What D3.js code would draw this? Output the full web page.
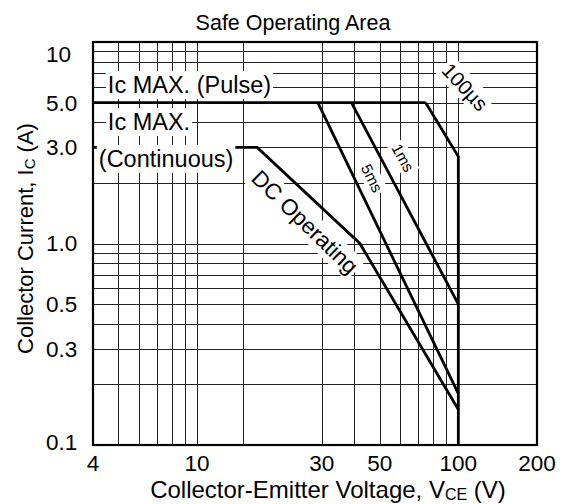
<!DOCTYPE html>
<html lang="en">
<head>
    <meta charset="UTF-8">
    <script src="https://d3js.org/d3.v7.min.js"></script>
    <title>Safe Operating Area</title>
    <style>
        body { margin: 0; background: #fff; }
        text { font-family: "Liberation Sans", Arial, Helvetica, sans-serif; fill: #000; }
    </style>
</head>
<body>
    <div id="chart"></div>
    <script>
        // chart data (V in volts, I in amps)
        const pulseV = [4, 75];
        const pulseI = [5, 5];
        const us100V = [75, 100, 100];
        const us100I = [5, 2.7, 0.1];
        const ms1V = [39, 100];
        const ms1I = [5, 0.5];
        const ms5V = [29, 100];
        const ms5I = [5, 0.18];
        const dcV = [4, 17, 42, 100];
        const dcI = [3, 3, 1, 0.15];

        // axis ticks + grid
        const xTicks = [4, 10, 30, 50, 100, 200];
        const xTickLabels = ["4", "10", "30", "50", "100", "200"];
        const yTicks = [10, 5, 3, 1, 0.5, 0.3, 0.1];
        const yTickLabels = ["10", "5.0", "3.0", "1.0", "0.5", "0.3", "0.1"];
        const xGrid = [5, 6, 7, 8, 9, 10, 15, 30, 40, 50, 60, 70, 80, 90, 100];
        const yGrid = [0.2, 0.3, 0.4, 0.5, 0.6, 0.7, 0.8, 0.9, 1, 2, 3, 4, 5, 6, 7, 8, 9];

        // annotations
        const labelText = ["Ic MAX. (Pulse)", "Ic MAX.", "(Continuous)", "DC Operating", "5ms", "1ms", "100\u00b5s"];
        const labelV = [4.56, 4.56, 4.21, 25.9, 46.7, 61.4, 106];
        const labelI = [5.58, 3.66, 2.40, 1.28, 2.11, 2.66, 5.98];
        const labelAngle = [0, 0, 0, 44, 64, 61, 47];
        const labelSize = [23.5, 23.5, 23.5, 22.5, 15.5, 15.5, 20.5];

        const w = 562;
        const h = 504;
        const margin = {top: 42, right: 25, bottom: 59, left: 93};

        const svg = d3.select("#chart").append("svg")
            .attr("width", w)
            .attr("height", h);

        svg.append("rect").attr("width", w).attr("height", h).attr("fill", "#fff");

        const x = d3.scaleLog().domain([4, 200]).range([margin.left, w - margin.right]);
        const y = d3.scaleLog().domain([0.1, 10]).range([h - margin.bottom, margin.top]);

        const crisp = v => Math.round(v) + 0.5;

        // grid
        const grid = svg.append("g")
            .attr("stroke", "#222")
            .attr("stroke-width", 1)
            .attr("shape-rendering", "crispEdges");

        grid.selectAll(".vg")
            .data(xGrid)
            .join("line")
            .attr("class", "vg")
            .attr("x1", d => crisp(x(d)))
            .attr("x2", d => crisp(x(d)))
            .attr("y1", y(10))
            .attr("y2", y(0.1));

        grid.selectAll(".hg")
            .data(yGrid)
            .join("line")
            .attr("class", "hg")
            .attr("x1", x(4))
            .attr("x2", x(200))
            .attr("y1", d => crisp(y(d)))
            .attr("y2", d => crisp(y(d)));

        // label boxes and text
        const labels = svg.append("g");
        const labelG = labels.selectAll("g")
            .data(labelText)
            .join("g")
            .attr("transform", (d, i) => `translate(${x(labelV[i])},${y(labelI[i])}) rotate(${labelAngle[i]})`);

        labelG.append("text")
            .text(d => d)
            .attr("font-size", (d, i) => labelSize[i])
            .attr("text-anchor", (d, i) => labelAngle[i] ? "middle" : "start")
            .attr("dy", (d, i) => labelAngle[i] ? "0.35em" : 0);

        labelG.each(function() {
            const g = d3.select(this);
            const b = g.select("text").node().getBBox();
            g.insert("rect", "text")
                .attr("x", b.x - 2)
                .attr("y", b.y - 1)
                .attr("width", b.width + 4)
                .attr("height", b.height + 2)
                .attr("fill", "#fff");
        });

        // curves
        const line = d3.line()
            .x(d => x(d[0]))
            .y(d => y(d[1]));

        const series = [
            [pulseV, pulseI],
            [us100V, us100I],
            [ms1V, ms1I],
            [ms5V, ms5I],
            [dcV, dcI]
        ];

        svg.append("g")
            .selectAll("path")
            .data(series)
            .join("path")
            .attr("d", s => line(s[0].map((v, i) => [v, s[1][i]])))
            .attr("fill", "none")
            .attr("stroke", "#000")
            .attr("stroke-width", 2.8)
            .attr("stroke-linejoin", "miter");

        // text on top of lines
        labels.raise();

        // frame
        svg.append("rect")
            .attr("x", x(4))
            .attr("y", y(10))
            .attr("width", x(200) - x(4))
            .attr("height", y(0.1) - y(10))
            .attr("fill", "none")
            .attr("stroke", "#000")
            .attr("stroke-width", 2.2);

        // tick labels
        svg.append("g")
            .selectAll("text")
            .data(xTicks)
            .join("text")
            .attr("x", d => x(d))
            .attr("y", h - margin.bottom + 26)
            .attr("text-anchor", "middle")
            .attr("font-size", 22.5)
            .text((d, i) => xTickLabels[i]);

        svg.append("g")
            .selectAll("text")
            .data(yTicks)
            .join("text")
            .attr("x", margin.left - 47)
            .attr("y", d => Math.min(Math.max(y(d), margin.top + 12), h - margin.bottom - 3))
            .attr("dy", "0.35em")
            .attr("font-size", 22.5)
            .text((d, i) => yTickLabels[i]);

        // titles
        svg.append("text")
            .attr("x", 293)
            .attr("y", 30)
            .attr("text-anchor", "middle")
            .attr("font-size", 21.5)
            .text("Safe Operating Area");

        const xt = svg.append("text")
            .attr("x", 328)
            .attr("y", h - 6)
            .attr("text-anchor", "middle")
            .attr("font-size", 24);
        xt.append("tspan").text("Collector-Emitter Voltage, V");
        xt.append("tspan").attr("font-size", 16).attr("dy", 2).text("CE");
        xt.append("tspan").attr("dy", -2).text(" (V)");

        const yt = svg.append("text")
            .attr("transform", `translate(33,${(y(10) + y(0.1)) / 2 - 5}) rotate(-90)`)
            .attr("text-anchor", "middle")
            .attr("font-size", 22);
        yt.append("tspan").text("Collector Current, I");
        yt.append("tspan").attr("font-size", 15).attr("dy", 2).text("C");
        yt.append("tspan").attr("dy", -2).text(" (A)");
    </script>
</body>
</html>
